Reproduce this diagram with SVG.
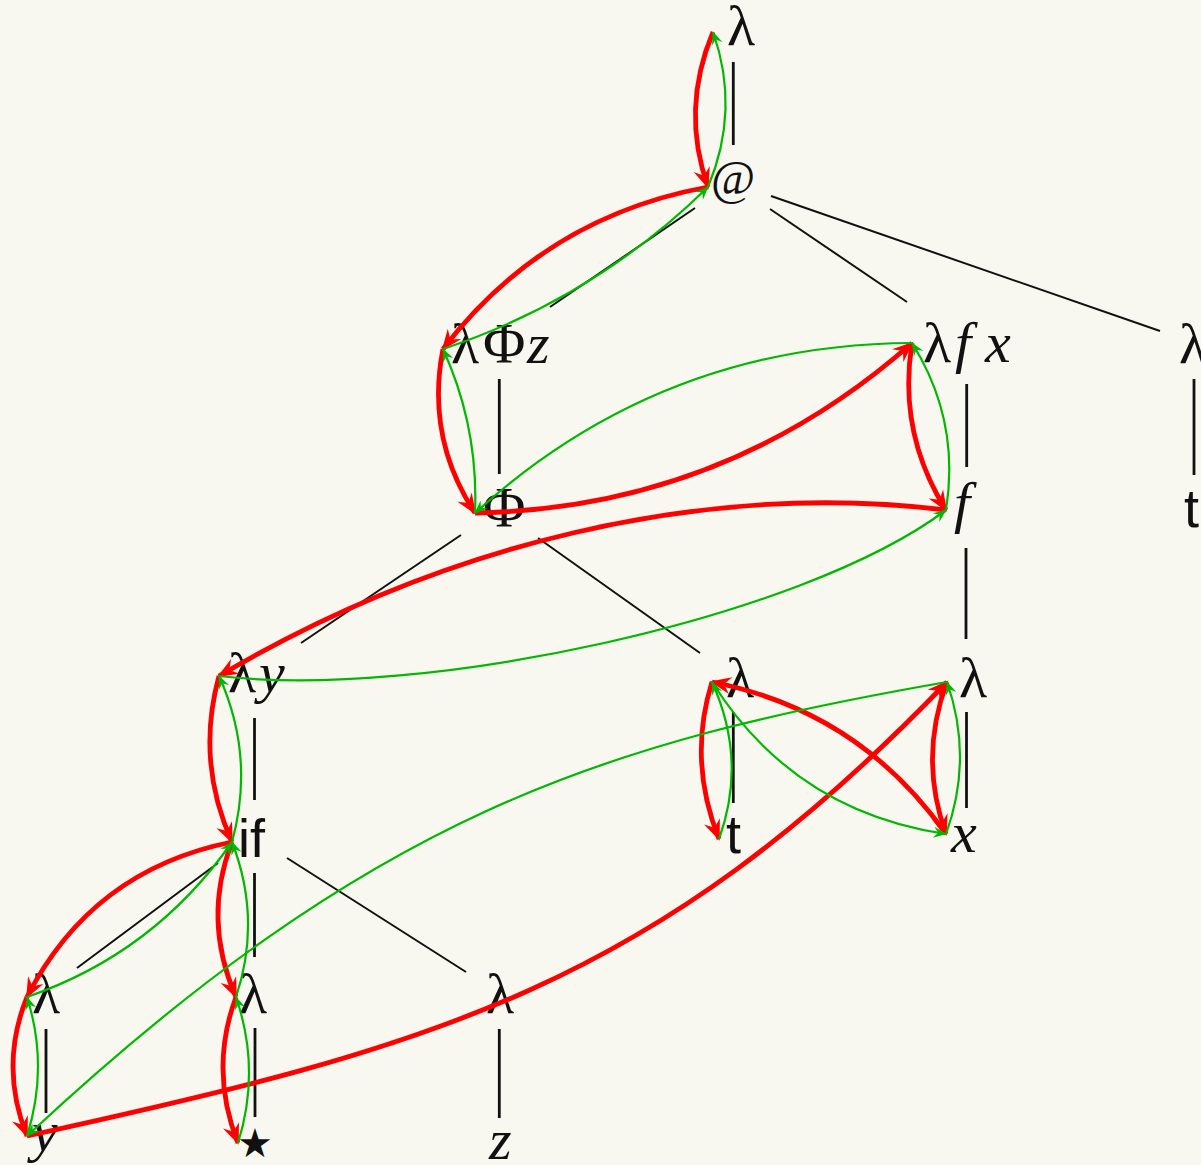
<svg xmlns="http://www.w3.org/2000/svg" width="1201" height="1165" viewBox="0 0 1201 1165">
<defs>
<marker id="ar" markerUnits="userSpaceOnUse" markerWidth="26" markerHeight="22" viewBox="-22 -11 26 22" refX="0" refY="0" orient="auto"><path d="M2,0 L-19,-8.5 L-12,0 L-19,8.5 Z" fill="#ff0000"/></marker>
<marker id="ag" markerUnits="userSpaceOnUse" markerWidth="18" markerHeight="14" viewBox="-15 -7 18 14" refX="0" refY="0" orient="auto"><path d="M0.5,0 L-12.5,-5.5 L-8,0 L-12.5,5.5 Z" fill="#00b800"/></marker>
</defs>
<style>
.s{font-family:"Liberation Serif","DejaVu Serif",serif;font-size:58px;fill:#111}
.i{font-style:italic}
.ss{font-family:"Liberation Sans","DejaVu Sans",sans-serif;font-size:54px;fill:#111}
.e{stroke:#111;stroke-width:2;fill:none}
.v{stroke:#111;stroke-width:2.8;fill:none}
.r{stroke:#ff0000;stroke-width:4.8;fill:none;marker-end:url(#ar)}
.g{stroke:#00b800;stroke-width:2.2;fill:none;marker-end:url(#ag)}
</style>
<rect width="1201" height="1165" fill="#f8f7f0"/>
<g id="n-lam-top"><text class="s" x="727" y="45">λ</text></g>
<g id="n-app"><text class="s" x="711" y="194" style="font-size:48px">@</text></g>
<g id="n-lamPhiz"><text class="s" x="451" y="363">λ<tspan x="483">Φ</tspan><tspan class="i" x="527">z</tspan></text></g>
<g id="n-lamfx"><text class="s" x="923" y="362">λ<tspan class="i" x="955">f</tspan><tspan class="i" x="985">x</tspan></text></g>
<g id="n-lam-right"><text class="s" x="1179" y="363">λ</text></g>
<g id="n-t-right"><text class="ss" x="1184" y="527">t</text></g>
<g id="n-Phi"><text class="s" x="483" y="527">Φ</text></g>
<g id="n-f"><text class="s i" x="954" y="522">f</text></g>
<g id="n-lamy"><text class="s" x="228" y="692">λ<tspan class="i" x="259">y</tspan></text></g>
<g id="n-lam-mid"><text class="s" x="726" y="697">λ</text></g>
<g id="n-lam-r2"><text class="s" x="959" y="697">λ</text></g>
<g id="n-if"><text class="ss" x="238" y="857">if</text></g>
<g id="n-t-mid"><text class="ss" x="726" y="853">t</text></g>
<g id="n-x"><text class="s i" x="951" y="852">x</text></g>
<g id="n-lam-bl"><text class="s" x="32" y="1013">λ</text></g>
<g id="n-lam-bm"><text class="s" x="239" y="1013">λ</text></g>
<g id="n-lam-br"><text class="s" x="486" y="1013">λ</text></g>
<g id="n-y"><text class="s i" x="32" y="1151">y</text></g>
<g id="n-star"><text x="237" y="1157" style="font-family:'DejaVu Sans',sans-serif;font-size:40px;fill:#111">★</text></g>
<g id="n-z"><text class="s i" x="489" y="1159">z</text></g>
<g id="connectors">
<g id="tree-edges">
<line class="v" x1="733.3" y1="62" x2="733.3" y2="145"/>
<line class="e" x1="695" y1="208" x2="550" y2="307"/>
<line class="e" x1="770" y1="209" x2="907" y2="302"/>
<line class="e" x1="771" y1="196" x2="1160" y2="331"/>
<line class="v" x1="499.3" y1="379" x2="499.3" y2="474"/>
<line class="v" x1="966.7" y1="384" x2="966.7" y2="467"/>
<line class="v" x1="1194" y1="379" x2="1194" y2="475"/>
<line class="e" x1="461" y1="535" x2="301" y2="643"/>
<line class="e" x1="538" y1="538" x2="700" y2="653"/>
<line class="v" x1="966" y1="548" x2="966" y2="639"/>
<line class="v" x1="254.5" y1="718" x2="254.5" y2="800"/>
<line class="v" x1="733.3" y1="712" x2="733.3" y2="803"/>
<line class="v" x1="966.5" y1="712" x2="966.5" y2="808"/>
<line class="e" x1="218" y1="863" x2="77" y2="968"/>
<line class="v" x1="254.5" y1="873" x2="254.5" y2="957"/>
<line class="e" x1="287" y1="858" x2="466" y2="972"/>
<line class="v" x1="46" y1="1029" x2="46" y2="1113"/>
<line class="v" x1="255" y1="1028" x2="255" y2="1117"/>
<line class="v" x1="499.3" y1="1029" x2="499.3" y2="1118"/>
</g>
<g id="red-arrows">
<path class="r" d="M713,32 Q680.5,109.5 708,187"/>
<path class="r" d="M708,187 Q544,217 443,349"/>
<path class="r" d="M443,349 Q425.6,437.5 475,513"/>
<path class="r" d="M475,513 Q724.7,508.2 912,343"/>
<path class="r" d="M912,343 Q897.6,432.9 946,510"/>
<path class="r" d="M946,510 C700,480 439,546 219,676"/>
<path class="r" d="M219,676 Q195.6,761.3 232,842"/>
<path class="r" d="M232,842 Q92,870 27,997"/>
<path class="r" d="M27,997 Q-1,1066.5 27,1136"/>
<path class="r" d="M27,1136 C434,1047 654,987 947,682"/>
<path class="r" d="M947,682 Q918.5,758 946,834"/>
<path class="r" d="M946,834 Q859.5,711 712,682"/>
<path class="r" d="M712,682 Q687.5,760.5 719,839"/>
<path class="r" d="M232,842 Q202,919.5 236,997"/>
<path class="r" d="M236,997 Q209,1070 238,1143"/>
</g>
<g id="green-arrows">
<path class="g" d="M708,187 Q740.5,109.5 713,32"/>
<path class="g" d="M443,349 Q594.3,298.7 708,187"/>
<path class="g" d="M475,513 Q478.6,427.2 443,349"/>
<path class="g" d="M912,343 Q660.9,344.1 475,513"/>
<path class="g" d="M946,510 Q960.4,420.1 912,343"/>
<path class="g" d="M219,676 C420,700 800,620 946,510"/>
<path class="g" d="M232,842 Q255.4,756.7 219,676"/>
<path class="g" d="M27,997 Q154.8,953 232,842"/>
<path class="g" d="M27,1136 Q49,1066.5 27,997"/>
<path class="g" d="M947,682 C602,742 372,814 27,1136"/>
<path class="g" d="M946,834 Q973.5,758 947,682"/>
<path class="g" d="M712,682 Q794.1,811.7 946,834"/>
<path class="g" d="M719,839 Q747.5,760.5 712,682"/>
<path class="g" d="M236,997 Q262,919.5 232,842"/>
<path class="g" d="M238,1143 Q261,1070 236,997"/>
</g>
</g>
</svg>
